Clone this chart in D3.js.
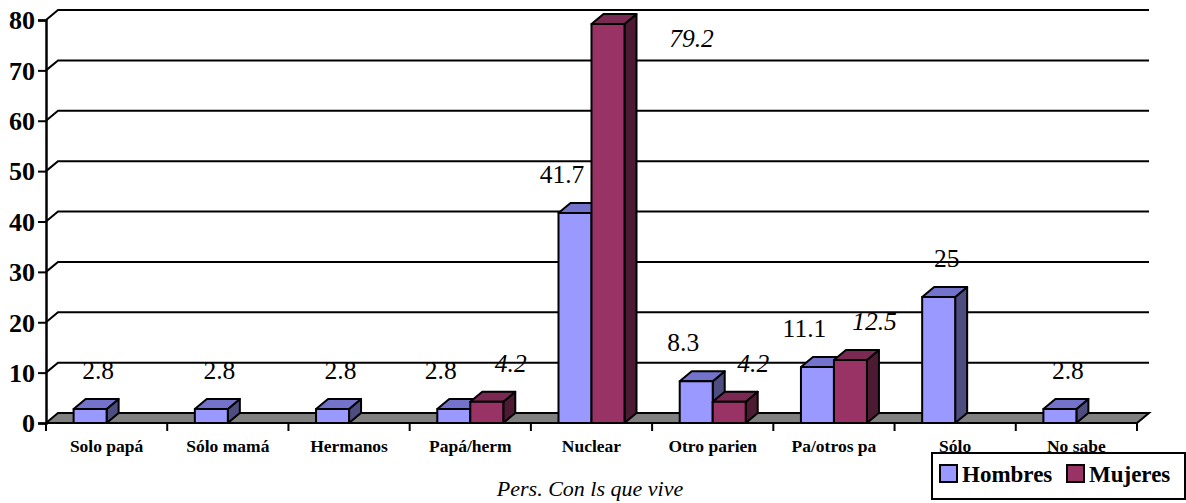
<!DOCTYPE html>
<html>
<head>
<meta charset="utf-8">
<script src="https://cdn.jsdelivr.net/npm/d3@7"></script>
<style>
  body { margin: 0; background: #fff; }
  svg text { font-family: "Liberation Serif", "Times New Roman", serif; }
</style>
</head>
<body>
<svg id="chart"></svg>
<script>
var categories = ["Solo papá", "Sólo mamá", "Hermanos", "Papá/herm", "Nuclear",
                  "Otro parien", "Pa/otros pa", "Sólo", "No sabe"];
var hombres = [2.8, 2.8, 2.8, 2.8, 41.7, 8.3, 11.1, 25, 2.8];
var mujeres = [null, null, null, 4.2, 79.2, 4.2, 12.5, null, null];
var yTicks = [0, 10, 20, 30, 40, 50, 60, 70, 80];
var seriesNames = ["Hombres", "Mujeres"];
var axisTitle = "Pers. Con ls que vive";

var dimensions = {
    width: 1186,
    height: 503,
    plot: { left: 46, right: 1137, top: 20, bottom: 423 },
    depth: { dx: 12, dy: 10 },
    barWidth: 33
}

var colors = {
    Hombres: { front: "#9999ff", top: "#7373cc", side: "#4d4d80" },
    Mujeres: { front: "#993366", top: "#7a2952", side: "#4d1a33" }
}

var svg = d3.select("#chart")
            .attr("width", dimensions.width)
            .attr("height", dimensions.height)

var dx = dimensions.depth.dx, dy = dimensions.depth.dy;
var p = dimensions.plot;

var xScale = d3.scaleBand()
               .domain(categories)
               .range([p.left, p.right])
               .padding(0)

var yScale = d3.scaleLinear()
               .domain([0, 80])
               .range([p.bottom, p.top])

// back wall gridlines with the little side-wall diagonal
var grid = svg.append("g")
grid.selectAll(".grid")
    .data(yTicks.filter(d => d > 0))
    .enter()
    .append("path")
    .attr("d", d => `M${p.left},${yScale(d)} L${p.left + dx},${yScale(d) - dy} L${p.right + dx},${yScale(d) - dy}`)
    .attr("fill", "none")
    .attr("stroke", "#000")
    .attr("stroke-width", 2)

// floor
var y0 = yScale(0);
svg.append("path")
   .attr("d", `M${p.left},${y0} L${p.left + dx},${y0 - dy} L${p.right + dx},${y0 - dy} L${p.right},${y0} Z`)
   .attr("fill", "#808080")
   .attr("stroke", "#000")
   .attr("stroke-width", 2)

// y axis
var yAxisGen = d3.axisLeft(yScale).tickValues(yTicks).tickSize(8).tickPadding(3)
var yAxis = svg.append("g")
               .attr("transform", `translate(${p.left},0)`)
               .call(yAxisGen)
yAxis.select(".domain").attr("stroke-width", 2.5)
yAxis.selectAll(".tick line").attr("stroke-width", 2)
yAxis.selectAll("text")
     .style("font-size", "26px")
     .style("font-weight", "bold")
     .attr("fill", "#000")
     .attr("dy", "0.34em")

// x axis ticks (category boundaries)
var bounds = categories.map(c => xScale(c)).concat([p.right]);
svg.append("g")
   .selectAll("line")
   .data(bounds)
   .enter()
   .append("line")
   .attr("x1", d => d).attr("x2", d => d)
   .attr("y1", y0).attr("y2", y0 + 8)
   .attr("stroke", "#000")
   .attr("stroke-width", 2)

svg.append("g")
   .selectAll("text")
   .data(categories)
   .enter()
   .append("text")
   .attr("x", d => xScale(d) + xScale.bandwidth() / 2)
   .attr("y", 452)
   .attr("text-anchor", "middle")
   .style("font-size", "17.5px")
   .style("font-weight", "bold")
   .text(d => d)

// 3D bars
var bars = [];
categories.forEach((c, i) => {
    var center = xScale(c) + xScale.bandwidth() / 2;
    if (hombres[i] != null) bars.push({ cat: i, series: "Hombres", value: hombres[i], x0: center - dimensions.barWidth, x1: center });
    if (mujeres[i] != null) bars.push({ cat: i, series: "Mujeres", value: mujeres[i], x0: center, x1: center + dimensions.barWidth });
});

var barG = svg.append("g")
              .selectAll("g")
              .data(bars)
              .enter()
              .append("g")

barG.append("path")
    .attr("d", d => {
        var yt = yScale(d.value);
        return `M${d.x1},${yt} L${d.x1 + dx},${yt - dy} L${d.x1 + dx},${y0 - dy} L${d.x1},${y0} Z`;
    })
    .attr("fill", d => colors[d.series].side)
barG.append("path")
    .attr("d", d => {
        var yt = yScale(d.value);
        return `M${d.x0},${yt} L${d.x0 + dx},${yt - dy} L${d.x1 + dx},${yt - dy} L${d.x1},${yt} Z`;
    })
    .attr("fill", d => colors[d.series].top)
barG.append("rect")
    .attr("x", d => d.x0)
    .attr("y", d => yScale(d.value))
    .attr("width", d => d.x1 - d.x0)
    .attr("height", d => y0 - yScale(d.value))
    .attr("fill", d => colors[d.series].front)
barG.selectAll("path, rect")
    .attr("stroke", "#000")
    .attr("stroke-width", 2)
    .attr("stroke-linejoin", "round")

// data labels
svg.append("g")
   .selectAll("text")
   .data(bars)
   .enter()
   .append("text")
   .attr("x", d => {
        var mid = (d.x0 + d.x1) / 2;
        var paired = hombres[d.cat] != null && mujeres[d.cat] != null;
        if (yScale(d.value) - 28 < 40) return d.x1 + dx + 55;
        if (d.series == "Mujeres") return mid + 24;
        return paired ? mid - 13 : mid + 8;
   })
   .attr("y", d => yScale(d.value) - 28 < 40 ? yScale(d.value) + 23 : yScale(d.value) - 30)
   .attr("text-anchor", "middle")
   .style("font-size", "25.5px")
   .style("font-style", d => d.series == "Mujeres" ? "italic" : "normal")
   .text(d => d.value)

// axis title
svg.append("text")
   .attr("x", 590)
   .attr("y", 496)
   .attr("text-anchor", "middle")
   .style("font-size", "22px")
   .style("font-style", "italic")
   .text(axisTitle)

// legend
var legend = svg.append("g").attr("transform", "translate(932,453)")
legend.append("rect")
      .attr("width", 253).attr("height", 46)
      .attr("fill", "#fff").attr("stroke", "#000").attr("stroke-width", 2)
var item = legend.selectAll(".item")
                 .data(seriesNames)
                 .enter()
                 .append("g")
                 .attr("transform", (d, i) => `translate(${8 + i * 127},12)`)
item.append("rect")
    .attr("width", 17).attr("height", 17)
    .attr("fill", d => colors[d].front)
    .attr("stroke", "#000").attr("stroke-width", 2)
item.append("text")
    .attr("x", 22).attr("y", 17)
    .style("font-size", "23px")
    .style("font-weight", "bold")
    .text(d => d)
</script>
</body>
</html>
